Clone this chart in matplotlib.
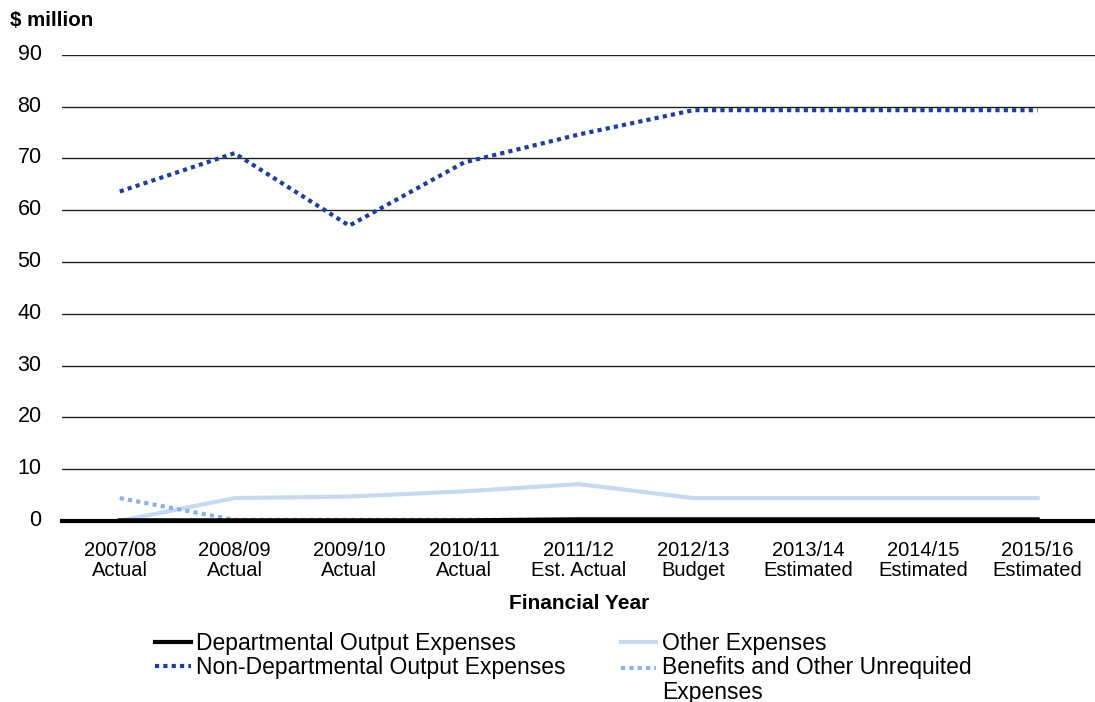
import numpy as np
import matplotlib.pyplot as plt
import matplotlib.transforms as mtransforms
from matplotlib.lines import Line2D
from matplotlib.legend_handler import HandlerLine2D

plt.rcParams['font.family'] = ['Liberation Sans', 'DejaVu Sans']

years = ["2007/08\nActual", "2008/09\nActual", "2009/10\nActual", "2010/11\nActual",
         "2011/12\nEst. Actual", "2012/13\nBudget", "2013/14\nEstimated",
         "2014/15\nEstimated", "2015/16\nEstimated"]
departmental = [0.1, 0.1, 0.1, 0.1, 0.3, 0.3, 0.3, 0.3, 0.3]
non_departmental = [63.6, 71.0, 57.0, 69.2, 74.6, 79.3, 79.3, 79.3, 79.3]
other = [0.0, 4.4, 4.7, 5.7, 7.1, 4.4, 4.4, 4.4, 4.4]
benefits = [4.4, 0.2, 0.2, 0.2, 0.2, 0.2, 0.2, 0.2, 0.2]


class RaisedHandler(HandlerLine2D):
    # put the legend line next to the first line of a two-line label
    def __init__(self, dy, **kw):
        super().__init__(**kw)
        self.dy = dy

    def create_artists(self, legend, orig_handle, xdescent, ydescent,
                       width, height, fontsize, trans):
        arts = super().create_artists(legend, orig_handle, xdescent, ydescent,
                                      width, height, fontsize, trans)
        for a in arts:
            a.set_ydata(np.asarray(a.get_ydata()) + self.dy)
        return arts


fig = plt.figure(figsize=(10.95, 7.02), dpi=100)
ax = fig.add_axes([0.057, 0.258, 0.943, 0.664])

x = np.arange(len(years))
ax.plot(x, other, color="#c6d9f1", lw=3)
ax.plot(x, benefits, color="#8db3e2", lw=3, ls=(0, (1, 1)))
ax.plot(x, departmental, color="black", lw=3)
ax.plot(x, non_departmental, color="#1f3d9c", lw=3, ls=(0, (1, 1)))

ax.set_xlim(-0.5, len(years) - 0.5)
ax.set_ylim(0, 90)
ax.set_yticks(range(0, 100, 10))
ax.set_yticklabels([str(v) for v in range(0, 100, 10)], fontsize=15.5)
ax.yaxis.grid(True, color="#222222", lw=1)
ax.set_axisbelow(True)
ax.set_xticks(x)
ax.set_xticklabels(years, fontsize=14.5, linespacing=1.05)
ax.tick_params(axis='y', length=0, pad=15)
ax.tick_params(axis='x', length=0, pad=14.5)
for s in ["top", "right", "left"]:
    ax.spines[s].set_visible(False)
ax.spines["bottom"].set_linewidth(3)
ax.spines["bottom"].set_color("black")

# y labels sit a little above their gridlines
shift = mtransforms.ScaledTranslation(0, 3 / 100, fig.dpi_scale_trans)
for lab in ax.get_yticklabels():
    lab.set_transform(lab.get_transform() + shift)

ax.set_xlabel("Financial Year", fontsize=15, fontweight="bold", labelpad=10)
fig.text(0.009, 0.963, "$ million", fontsize=14.8, fontweight="bold")

handles = [
    Line2D([], [], color="black", lw=3),
    Line2D([], [], color="#1f3d9c", lw=3, ls=(0, (1, 1))),
    Line2D([], [], color="#c6d9f1", lw=3),
    Line2D([], [], color="#8db3e2", lw=3, ls=(0, (1, 1))),
]
labels = ["Departmental Output Expenses", "Non-Departmental Output Expenses",
          "Other Expenses", "Benefits and Other Unrequited\nExpenses"]
leg = fig.legend(handles, labels, loc="upper left", bbox_to_anchor=(0.1416, 0.10),
                 ncol=2, frameon=False, fontsize=16.5, handlelength=1.55,
                 handletextpad=0.25, columnspacing=2.4, labelspacing=0.06,
                 borderaxespad=0, borderpad=0,
                 handler_map={handles[3]: RaisedHandler(9.0)})
for t in leg.get_texts():
    t.set_linespacing(1.09)

fig.savefig("out.png", dpi=100)
